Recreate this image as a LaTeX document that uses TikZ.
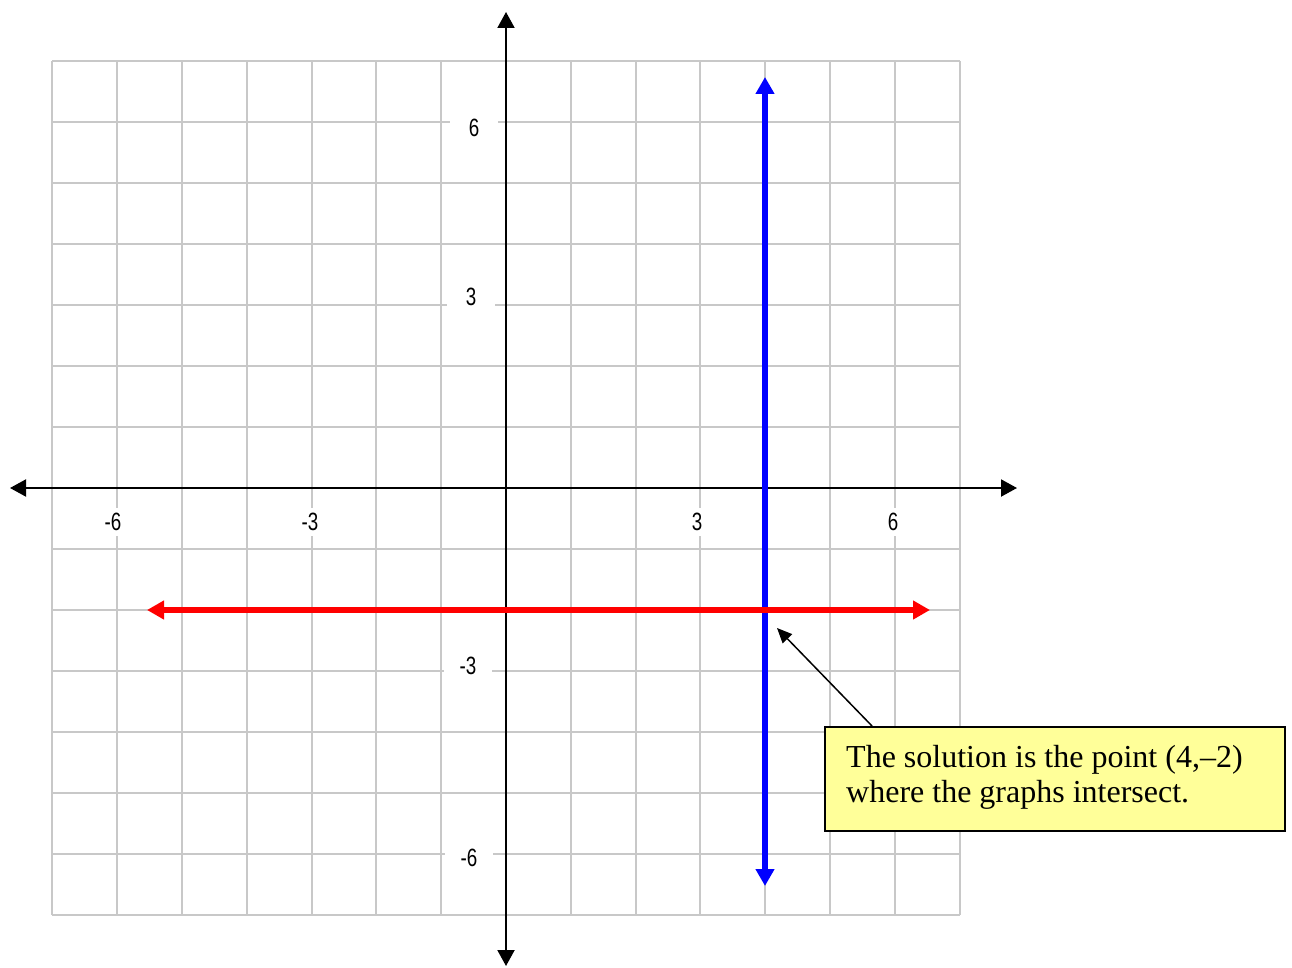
\documentclass[tikz,border=0pt]{standalone}
\usepackage{fontspec}
\setmainfont{Liberation Serif}
\newfontfamily\tickfont{Liberation Sans}
\usetikzlibrary{arrows.meta}
\definecolor{gridgray}{RGB}{200,200,200}
\definecolor{noteyellow}{RGB}{255,255,153}
\begin{document}
\begin{tikzpicture}[x=1pt,y=-1pt,
  gridline/.style={gridgray,line width=2pt},
  axisline/.style={black,line width=2pt,{Triangle[length=16pt,width=17pt]}-{Triangle[length=16pt,width=17pt]}},
  graphline/.style={line width=5.5pt,{Triangle[length=17pt,width=18pt]}-{Triangle[length=17pt,width=18pt]}},
  ticklabel/.style={fill=white,inner sep=0pt,minimum width=48pt,minimum height=28pt,font=\tickfont\fontsize{25}{25}\selectfont},
  notebox/.style={draw=black,line width=2pt,fill=noteyellow,inner sep=0pt,minimum width=460pt,minimum height=104pt,anchor=north west},
  notetextstyle/.style={anchor=base west,inner sep=0pt,font=\fontsize{32}{35}\selectfont},
  pointer/.style={black,line width=1.5pt,-{Triangle[length=15pt,width=13pt]}}]
\useasboundingbox[fill=white] (0,0) rectangle (1292,968);
% grid
\foreach \i in {-7,...,7}{
  \draw[gridline] ({506+64.8*\i},61) -- ({506+64.8*\i},915);
  \draw[gridline] (52.4,{488+61*\i}) -- (959.6,{488+61*\i});
}
% tick labels
\node[ticklabel] (xm6) at (113,522) {\scalebox{0.75}[1]{-6}};
\node[ticklabel] (xm3) at (310,522) {\scalebox{0.75}[1]{-3}};
\node[ticklabel] (xp3) at (697,522) {\scalebox{0.75}[1]{3}};
\node[ticklabel] (xp6) at (893,522) {\scalebox{0.75}[1]{6}};
\node[ticklabel] (yp6) at (474,128) {\scalebox{0.75}[1]{6}};
\node[ticklabel] (yp3) at (471,297) {\scalebox{0.75}[1]{3}};
\node[ticklabel] (ym3) at (468,666) {\scalebox{0.75}[1]{-3}};
\node[ticklabel] (ym6) at (469,858) {\scalebox{0.75}[1]{-6}};
% axes
\coordinate (xl) at (10,488);
\coordinate (xr) at (1017,488);
\coordinate (yt) at (506,12);
\coordinate (yb) at (506,966);
\draw[axisline] (xl) -- (xr);
\draw[axisline] (yt) -- (yb);
% graphs
\coordinate (bt) at (765,77);
\coordinate (bb) at (765,886);
\coordinate (rl) at (147,610);
\coordinate (rr) at (930,610);
\draw[graphline,blue] (bt) -- (bb);
\draw[graphline,red] (rl) -- (rr);
% annotation
\node[notebox] (note) at (824,726) {};
\node[notetextstyle] (line1) at (846,767) {The solution is the point (4,–2)};
\node[notetextstyle] (line2) at (846,802) {where the graphs intersect.};
\coordinate (target) at (777,628);
\draw[pointer] ([xshift=48pt]note.north west) -- (target);
\end{tikzpicture}
\end{document}
